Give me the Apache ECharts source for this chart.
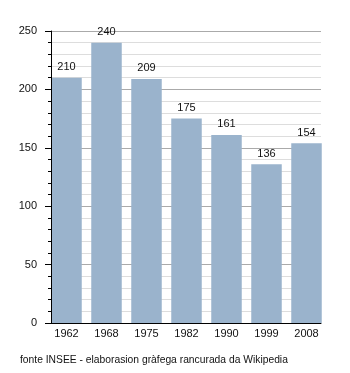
<!DOCTYPE html>
<html>
<head>
<meta charset="utf-8">
<script src="https://cdn.jsdelivr.net/npm/echarts@6/dist/echarts.min.js"></script>
<style>
  html, body { margin: 0; padding: 0; background: #fff; }
  #chart { width: 350px; height: 373px; }
</style>
</head>
<body>
<div id="chart"></div>
<script>
// Population by census year
const years = ['1962', '1968', '1975', '1982', '1990', '1999', '2008'];
const population = [210, 240, 209, 175, 161, 136, 154];
const yTicks = { min: 0, max: 250, interval: 50 };
const sourceNote = 'fonte INSEE - elaborasion gràfega rancurada da Wikipedia';

const FONT = 'Liberation Sans, Arial, sans-serif';
const chart = echarts.init(document.getElementById('chart'), null, { renderer: 'canvas' });

chart.setOption({
  animation: false,
  backgroundColor: '#ffffff',
  textStyle: { fontFamily: FONT },
  grid: [
    // frame grid: value axis, gridlines, baseline
    { left: 51, top: 31, width: 270, height: 292 },
    // bar grid: slightly wider so the bars sit flush with the frame
    { left: 46.5, top: 31, width: 280, height: 292 }
  ],
  xAxis: [
    // baseline only, drawn above the bars
    {
      gridIndex: 0, type: 'category', data: years, z: 10, position: 'bottom',
      axisLine: { show: true, onZero: false, lineStyle: { color: '#000', width: 1 } },
      axisTick: { show: false }, axisLabel: { show: false }, splitLine: { show: false }
    },
    // year labels centred under the bars
    {
      gridIndex: 1, type: 'category', data: years,
      axisLine: { show: false }, axisTick: { show: false },
      axisLabel: { color: '#111', fontSize: 11, margin: 5, fontFamily: FONT }
    }
  ],
  yAxis: [
    // gridlines only, drawn beneath the bars
    {
      gridIndex: 0, type: 'value', min: yTicks.min, max: yTicks.max, interval: yTicks.interval,
      axisLine: { show: false }, axisTick: { show: false }, axisLabel: { show: false },
      minorTick: { show: false, splitNumber: 5 },
      splitLine: { show: true, lineStyle: { color: '#aaaaaa', width: 1 } },
      minorSplitLine: { show: true, lineStyle: { color: '#dddddd', width: 1 } }
    },
    // axis line, ticks and labels, drawn above the bars
    {
      gridIndex: 0, type: 'value', position: 'left', z: 10,
      min: yTicks.min, max: yTicks.max, interval: yTicks.interval,
      axisLine: { show: true, onZero: false, lineStyle: { color: '#000', width: 1 } },
      axisTick: { show: true, length: 6, lineStyle: { color: '#000' } },
      minorTick: { show: true, splitNumber: 5, length: 3, lineStyle: { color: '#000' } },
      axisLabel: { color: '#111', fontSize: 11, margin: 14, fontFamily: FONT },
      splitLine: { show: false }, minorSplitLine: { show: false }
    },
    {
      gridIndex: 1, type: 'value', min: yTicks.min, max: yTicks.max,
      show: false, splitLine: { show: false }
    }
  ],
  series: [{
    type: 'bar',
    xAxisIndex: 1, yAxisIndex: 2,
    data: population,
    barWidth: 30.5,
    itemStyle: { color: '#9ab3cc' },
    label: {
      show: true, position: 'top', distance: 5,
      color: '#111', fontSize: 11, fontFamily: FONT
    }
  }],
  graphic: [{
    type: 'text', left: 20, top: 355,
    style: { text: sourceNote, fill: '#111', fontSize: 10.3, fontFamily: FONT }
  }]
});
</script>
</body>
</html>
